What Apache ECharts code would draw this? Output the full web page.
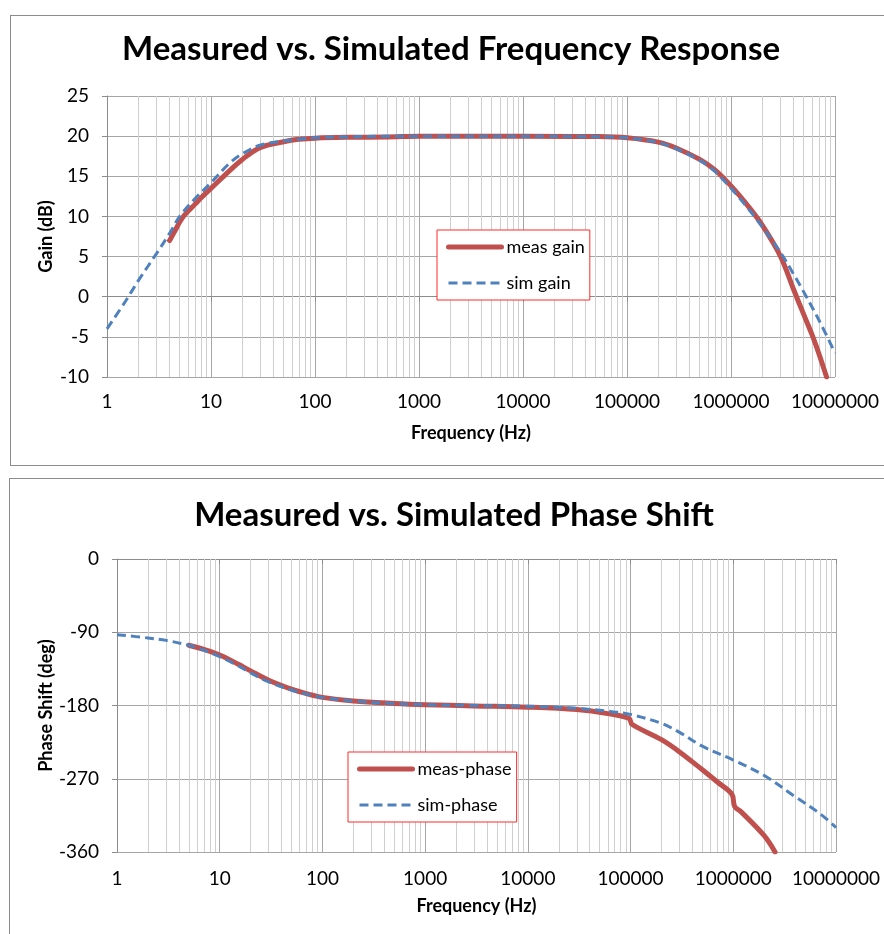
<!DOCTYPE html>
<html><head><meta charset="utf-8">
<script src="https://cdn.jsdelivr.net/npm/echarts@6/dist/echarts.min.js"></script>
<style>
html,body{margin:0;padding:0;background:#fff;overflow:hidden}
#box1{position:absolute;left:10px;top:15px;width:900px;height:451px;border:1px solid #8c8c8c;box-sizing:border-box}
#box2{position:absolute;left:9px;top:478px;width:900px;height:500px;border:1px solid #8c8c8c;box-sizing:border-box}
#chart{position:absolute;left:0;top:0;width:884px;height:934px}
</style></head><body>
<div id="box1"></div><div id="box2"></div><div id="chart"></div>
<script>
// ---- data ----
const freqTickLabels = ['1','10','100','1000','10000','100000','1000000','10000000'];
const gainTicks = [-10,-5,0,5,10,15,20,25];
const phaseTicks = [-360,-270,-180,-90,0];

const simGainFreq = [1,1.5,2,3,4,5,7,10,15,20,30,50,70,100,200,500,1000,10000,40000,70000,100000,200000,300000,500000,700000,1000000,1500000,2000000,3000000,4000000,5000000,7000000,10000000];
const simGain     = [-4.0,-0.6,2.0,5.4,7.9,10.0,12.2,14.2,16.6,17.8,18.9,19.4,19.6,19.8,19.9,20,20,20,19.95,19.9,19.8,19.2,18.4,17.0,15.6,13.5,10.8,8.7,5.5,2.8,0.6,-2.9,-7.0];

const measGainFreq = [4,4.5,5,5.5,7,8,10,14,20,30,50,70,100,200,500,1000,10000,50000,100000,200000,300000,500000,700000,1000000,1500000,2000000,3000000,4000000,5000000,6000000,7000000,8300000];
const measGain     = [7.0,8.2,9.3,10.1,11.5,12.3,13.5,15.3,17.1,18.6,19.3,19.6,19.75,19.85,19.9,20,20,19.95,19.8,19.25,18.5,17.1,15.8,13.8,11.1,8.9,5.0,0.9,-2.2,-4.7,-7.1,-10.0];

const simPhaseFreq = [1,2,3,5,7,10,15,20,30,50,70,100,200,500,1000,3000,10000,30000,60000,100000,200000,300000,500000,1000000,2000000,4000000,7000000,10000000];
const simPhase     = [-93,-97,-100,-106,-112,-120,-131,-140,-151,-161,-166,-170,-174.5,-177.5,-179,-180,-181,-183.5,-187,-191,-202,-213,-230,-247,-266,-292,-313,-330];

const measPhaseFreq = [5,7,10,15,20,30,50,70,100,200,500,1000,3000,10000,30000,60000,97000,103000,200000,300000,500000,700000,970000,1030000,1200000,2000000,2550000];
const measPhase     = [-106,-111,-118,-129,-137.5,-149,-160,-165.5,-170,-174.5,-177.5,-179,-180.5,-182,-185,-190,-196,-203,-222,-237,-259,-274,-289,-304,-311,-340,-360];

// ---- helpers ----
const zip = (xs, ys) => xs.map((x, i) => [x, ys[i]]);
const decades = [1,10,100,1000,10000,100000,1000000];
const mults = [2,3,4,5,6,7,8,9];
const minorLines = [];
decades.forEach(d => mults.forEach(m => minorLines.push({xAxis: d*m})));

const RED = '#C0504D', BLUE = '#4F81BD';
const FONT = 'Lato';
const MAJ = '#a6a6a6', MIN = '#cfcfcf', AX = '#8c8c8c';

function xAxisCfg(gi, gap, margin) {
  return {
    type:'log', logBase:10, min:1, max:10000000, splitNumber:7, gridIndex:gi,
    name:'Frequency (Hz)', nameLocation:'middle', nameGap:gap, nameMoveOverlap:false,
    nameTextStyle:{fontFamily:FONT, fontWeight:'bold', fontSize:18, color:'#000'},
    axisLine:{show:true, lineStyle:{color:AX, width:1}},
    axisTick:{show:true, length:5, lineStyle:{color:AX}},
    axisLabel:{fontFamily:FONT, fontSize:19, color:'#000', margin:margin,
      formatter: v => freqTickLabels[Math.round(Math.log10(v))]},
    splitLine:{show:true, lineStyle:{color:MAJ, width:1}}
  };
}
function yAxisCfg(gi, name, min, max, interval, gap, ticks) {
  return {
    type:'value', gridIndex:gi, min:min, max:max, interval:interval,
    name:name, nameLocation:'middle', nameGap:gap, nameMoveOverlap:false,
    nameTextStyle:{fontFamily:FONT, fontWeight:'bold', fontSize:18, color:'#000'},
    axisLine:{show:true, lineStyle:{color:AX, width:1}},
    axisTick:{show:true, length:5, lineStyle:{color:AX}},
    axisLabel:{fontFamily:FONT, fontSize:19, color:'#000', margin:18,
      formatter: v => String(ticks.find(t => Math.abs(t - v) < 1e-9) ?? v)},
    splitLine:{show:true, lineStyle:{color:MAJ, width:1}}
  };
}
function minorSeries(gi) {
  return {type:'line', name:'_grid'+gi, xAxisIndex:gi, yAxisIndex:gi, data:[], silent:true, z:1,
    markLine:{z:1, silent:true, symbol:['none','none'], label:{show:false}, animation:false,
      lineStyle:{color:MIN, type:'solid', width:1}, emphasis:{disabled:true},
      data: minorLines}};
}
function lineSeries(name, gi, xs, ys, dashed) {
  return {
    name:name, type:'line', xAxisIndex:gi, yAxisIndex:gi, data:zip(xs, ys),
    symbol:'none', showSymbol:false, smooth:0.35, z: dashed ? 4 : 3,
    lineStyle: dashed ? {color:BLUE, width:3, type:[9,5]} : {color:RED, width:5, cap:'round', join:'round'},
    itemStyle:{color: dashed ? BLUE : RED}
  };
}
const hiddenSymbol = {color:'transparent', borderWidth:0, opacity:0};
function legendCfg(names, left, top) {
  return {
    orient:'vertical', left:left, top:top, padding:[8,5,8,9], itemGap:18,
    itemWidth:53, itemHeight:14, backgroundColor:'#fff',
    borderColor:'#ff2a2a', borderWidth:1, borderRadius:0,
    textStyle:{fontFamily:FONT, fontSize:18, color:'#000'},
    data:[
      {name:names[0], itemStyle:hiddenSymbol, lineStyle:{width:5, color:RED, cap:'round'}},
      {name:names[1], itemStyle:hiddenSymbol, lineStyle:{width:3, color:BLUE, type:[9,5]}}
    ]
  };
}

const chart = echarts.init(document.getElementById('chart'), null, {renderer:'canvas'});
chart.setOption({
  animation:false,
  textStyle:{fontFamily:FONT},
  title:[
    {text:'Measured vs. Simulated Frequency Response', left:451, top:33, textAlign:'center', padding:0,
     textStyle:{fontFamily:FONT, fontWeight:'bold', fontSize:33, color:'#000'}},
    {text:'Measured vs. Simulated Phase Shift', left:454, top:499, textAlign:'center', padding:0,
     textStyle:{fontFamily:FONT, fontWeight:'bold', fontSize:33, color:'#000'}}
  ],
  legend:[
    legendCfg(['meas gain','sim gain'], 437, 230),
    legendCfg(['meas-phase','sim-phase'], 348, 752)
  ],
  grid:[
    {left:107, top:96, width:728, height:281, containLabel:false},
    {left:117, top:559, width:719, height:293, containLabel:false}
  ],
  xAxis:[xAxisCfg(0, 47, 15), xAxisCfg(1, 45, 17)],
  yAxis:[
    yAxisCfg(0, 'Gain (dB)', -10, 25, 5, 52, gainTicks),
    yAxisCfg(1, 'Phase Shift (deg)', -360, 0, 90, 62, phaseTicks)
  ],
  series:[
    minorSeries(0), minorSeries(1),
    lineSeries('meas gain', 0, measGainFreq, measGain, false),
    lineSeries('sim gain', 0, simGainFreq, simGain, true),
    lineSeries('meas-phase', 1, measPhaseFreq, measPhase, false),
    lineSeries('sim-phase', 1, simPhaseFreq, simPhase, true)
  ]
});
</script>
</body></html>
